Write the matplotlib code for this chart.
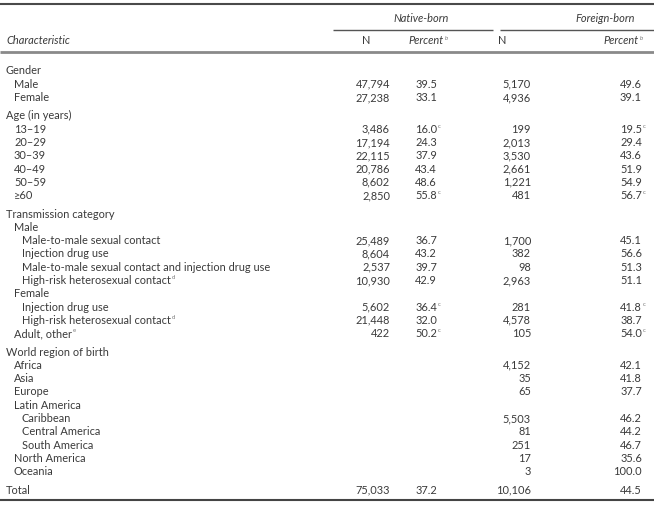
import matplotlib
matplotlib.use("Agg")
import matplotlib.pyplot as plt

# table content
labels = [
    "Gender", "Male", "Female",
    "Age (in years)", "13\u201319", "20\u201329", "30\u201339", "40\u201349", "50\u201359", "\u226560",
    "Transmission category", "Male", "Male-to-male sexual contact", "Injection drug use",
    "Male-to-male sexual contact and injection drug use", "High-risk heterosexual contact",
    "Female", "Injection drug use", "High-risk heterosexual contact", "Adult, other",
    "World region of birth", "Africa", "Asia", "Europe", "Latin America", "Caribbean",
    "Central America", "South America", "North America", "Oceania",
    "Total",
]
indent = [0, 1, 1,
          0, 1, 1, 1, 1, 1, 1,
          0, 1, 2, 2, 2, 2, 1, 2, 2, 1,
          0, 1, 1, 1, 1, 2, 2, 2, 1, 1,
          0]
label_notes = [""] * len(labels)
label_notes[15] = "d"
label_notes[18] = "d"
label_notes[19] = "e"

native_n = [None, 47794, 27238,
            None, 3486, 17194, 22115, 20786, 8602, 2850,
            None, None, 25489, 8604, 2537, 10930, None, 5602, 21448, 422,
            None, None, None, None, None, None, None, None, None, None,
            75033]
native_pct = [None, 39.5, 33.1,
              None, 16.0, 24.3, 37.9, 43.4, 48.6, 55.8,
              None, None, 36.7, 43.2, 39.7, 42.9, None, 36.4, 32.0, 50.2,
              None, None, None, None, None, None, None, None, None, None,
              37.2]
foreign_n = [None, 5170, 4936,
             None, 199, 2013, 3530, 2661, 1221, 481,
             None, None, 1700, 382, 98, 2963, None, 281, 4578, 105,
             None, 4152, 35, 65, None, 5503, 81, 251, 17, 3,
             10106]
foreign_pct = [None, 49.6, 39.1,
               None, 19.5, 29.4, 43.6, 51.9, 54.9, 56.7,
               None, None, 45.1, 56.6, 51.3, 51.1, None, 41.8, 38.7, 54.0,
               None, 42.1, 41.8, 37.7, None, 46.2, 44.2, 46.7, 35.6, 100.0,
               44.5]
# rows whose percentages carry footnote c
pct_note_rows = [4, 9, 17, 19]
section_starts = [3, 10, 20, 30]

W, H = 654, 508
fig = plt.figure(figsize=(W / 100, H / 100), dpi=100)
ax = fig.add_axes([0, 0, 1, 1])
ax.set_xlim(0, W)
ax.set_ylim(H, 0)
ax.axis("off")

fam = ["Lato", "DejaVu Sans"]
fs = 7.9
col = "#3a3a3a"

x_label = 6
step_indent = 8
x_nn, x_np, x_fn, x_fp = 390, 437, 531, 642

# header
ax.plot([0, W], [4, 4], color="#4a4a4a", lw=1.5, solid_capstyle="butt")
ax.text(421, 18, "Native-born", ha="center", va="center", fontsize=fs, style="italic",
        family=fam, color=col)
ax.text(605, 18, "Foreign-born", ha="center", va="center", fontsize=fs, style="italic",
        family=fam, color=col)
ax.plot([333, 493], [30, 30], color="#555555", lw=1.0, solid_capstyle="butt")
ax.plot([500, W], [30, 30], color="#555555", lw=1.0, solid_capstyle="butt")
ax.text(x_label, 41, "Characteristic", ha="left", va="center", fontsize=fs, style="italic",
        family=fam, color=col)
ax.text(366, 41, "N", ha="center", va="center", fontsize=fs, family=fam, color=col)
ax.text(502, 41, "N", ha="center", va="center", fontsize=fs, family=fam, color=col)
for xr in (444, 639):
    ax.text(xr, 41, "Percent", ha="right", va="center", fontsize=fs, style="italic",
            family=fam, color=col)
    ax.text(xr + 0.5, 38, "b", ha="left", va="center", fontsize=fs * 0.55, style="italic",
            family=fam, color="#777777")
ax.plot([0, W], [52, 52], color="#8a8a8a", lw=2.0, solid_capstyle="butt")

# body
row_step = 13.3
gap = 5
y = 71
fig.canvas.draw()
renderer = fig.canvas.get_renderer()
for i, lab in enumerate(labels):
    if i in section_starts:
        y += gap
    xl = x_label + indent[i] * step_indent
    t = ax.text(xl, y, lab, ha="left", va="center", fontsize=fs, family=fam, color=col)
    if label_notes[i]:
        bb = t.get_window_extent(renderer)
        xe = ax.transData.inverted().transform((bb.x1, 0))[0]
        ax.text(xe + 0.5, y - 3, label_notes[i], ha="left", va="center", fontsize=fs * 0.55,
                family=fam, color="#777777")
    for xr, n in ((x_nn, native_n[i]), (x_fn, foreign_n[i])):
        if n is not None:
            ax.text(xr, y, f"{n:,}", ha="right", va="center", fontsize=fs,
                    family=fam, color=col)
    for xr, p in ((x_np, native_pct[i]), (x_fp, foreign_pct[i])):
        if p is not None:
            ax.text(xr, y, f"{p:.1f}", ha="right", va="center", fontsize=fs,
                    family=fam, color=col)
            if i in pct_note_rows:
                ax.text(xr + 0.5, y - 3, "c", ha="left", va="center", fontsize=fs * 0.55,
                        family=fam, color="#777777")
    y += row_step

ax.plot([0, W], [500, 500], color="#444444", lw=1.5, solid_capstyle="butt")

fig.savefig("out.png", dpi=100, facecolor="white")
